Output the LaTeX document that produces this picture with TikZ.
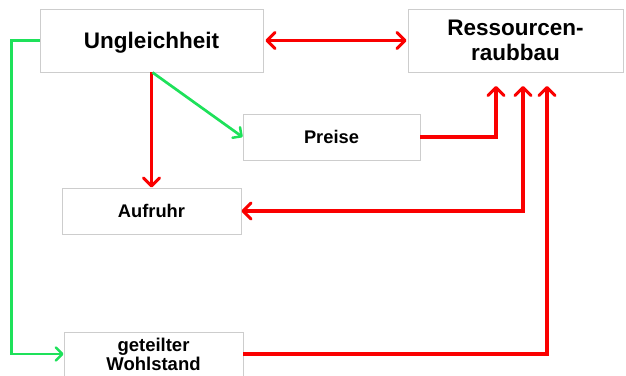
\documentclass[tikz,border=0pt]{standalone}
\usepackage{fontspec}
\setmainfont{Liberation Sans}
\usepackage{tikz}
\usetikzlibrary{arrows.meta, positioning, calc}
\definecolor{boxgray}{RGB}{205,205,205}
\definecolor{arrred}{RGB}{250,0,0}
\definecolor{arrgreen}{RGB}{30,225,90}

\begin{document}
\begin{tikzpicture}[x=1pt, y=-1pt,
    box/.style={draw=boxgray, line width=0.9pt, fill=white, inner sep=0pt, align=center, font=\bfseries},
    redtip/.tip={Straight Barb[length=8pt, width=16pt, line width=3pt, round]},
    greentip/.tip={Straight Barb[length=6.5pt, width=13pt, line width=2.5pt, round]},
    redarr/.style={draw=arrred, line width=3.3pt, arrows={-redtip}},
    greenarr/.style={draw=arrgreen, line width=2.7pt, arrows={-greentip}}]
    \useasboundingbox (0,0) rectangle (626,375);

    % Boxes
    \node[box, text depth=0pt, minimum width=223pt, minimum height=63pt, font=\bfseries\fontsize{22.5}{25}\selectfont] (ungl) at (151.5,40.5) {Ungleichheit};
    \node[box, text depth=0pt, minimum width=215pt, minimum height=63pt, font=\bfseries\fontsize{22.5}{25}\selectfont] (ress) at (515.5,40.5) {Ressourcen-\\raubbau};
    \node[box, minimum width=177pt, minimum height=46pt, font=\bfseries\fontsize{18.3}{20}\selectfont] (preise) at (331.5,137) {Preise};
    \node[box, minimum width=179pt, minimum height=46pt, font=\bfseries\fontsize{18.3}{20}\selectfont] (aufruhr) at (151.5,211) {Aufruhr};
    \node[box, minimum width=179pt, minimum height=44pt, font=\bfseries\fontsize{18.5}{19}\selectfont] (wohl) at (153.5,354) {geteilter\\Wohlstand};

    % Arrow ends below Ressourcenraubbau
    \coordinate (inP) at (496,86);
    \coordinate (inA) at (523,86);
    \coordinate (inW) at (547,86);

    % Red arrows
    \draw[redarr, arrows={redtip-redtip}] ([xshift=2pt]ungl.east) -- ([xshift=-1pt]ress.west);
    \draw[redarr] (ungl.south) -- (aufruhr.north);
    \draw[redarr] (preise.east) -| (inP);
    \draw[redarr, arrows={redtip-redtip}] (aufruhr.east) -| (inA);
    \draw[redarr] (wohl.east) -| (inW);

    % Green arrows
    \draw[greenarr] ([xshift=1pt]ungl.south) -- (preise.west);
    \draw[greenarr] (ungl.west) -- ++(-28,0) |- (wohl.west);
\end{tikzpicture}
\end{document}
